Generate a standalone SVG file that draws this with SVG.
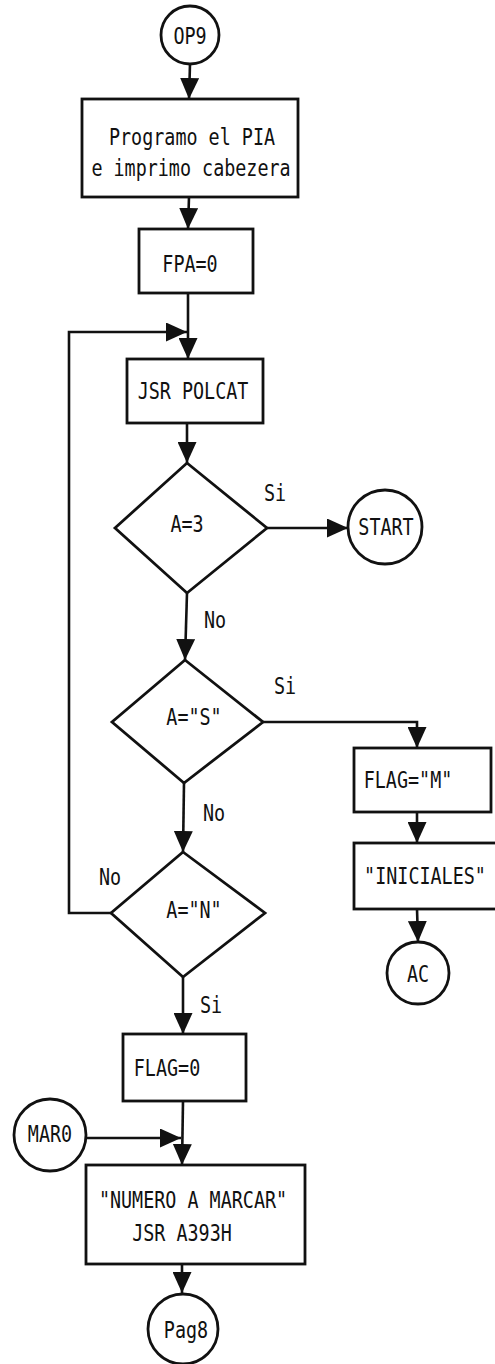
<svg xmlns="http://www.w3.org/2000/svg" width="495" height="1364" viewBox="0 0 495 1364">
<style>
.s{fill:#fff;stroke:#111;stroke-width:2.8}
.c{fill:none;stroke:#111;stroke-width:2.6}
.t{font-family:"DejaVu Sans Mono","Liberation Mono",monospace;font-size:18.4px;fill:#111;text-anchor:middle}
</style>
<defs>
<marker id="a" viewBox="0 0 21 19" markerWidth="21" markerHeight="19" refX="21" refY="9.5" orient="auto" markerUnits="userSpaceOnUse">
<path d="M0,0 L21,9.5 L0,19 z" fill="#111"/>
</marker>
</defs>
<rect width="495" height="1364" fill="#fff"/>
<g id="connectors">
<path class="c" d="M190,64 L189,99" marker-end="url(#a)"/>
<path class="c" d="M189,197 L188,229" marker-end="url(#a)"/>
<path class="c" d="M188,293 L188,359" marker-end="url(#a)"/>
<path class="c" d="M111,913 L69,913 L69,332 L187,332" marker-end="url(#a)"/>
<path class="c" d="M187,423 L187,463" marker-end="url(#a)"/>
<path class="c" d="M267,528 L348,528" marker-end="url(#a)"/>
<path class="c" d="M187,593 L185,660" marker-end="url(#a)"/>
<path class="c" d="M263,722 L417,722 L417,748" marker-end="url(#a)"/>
<path class="c" d="M417,812 L417,843" marker-end="url(#a)"/>
<path class="c" d="M417,909 L418,942" marker-end="url(#a)"/>
<path class="c" d="M184,783 L183,852" marker-end="url(#a)"/>
<path class="c" d="M183,977 L183,1034" marker-end="url(#a)"/>
<path class="c" d="M183,1101 L182,1165" marker-end="url(#a)"/>
<path class="c" d="M87,1138 L181,1138" marker-end="url(#a)"/>
<path class="c" d="M182,1264 L182,1293" marker-end="url(#a)"/>
<text class="t" transform="translate(275 493) scale(1 1.25)" y="6.7">Si</text>
<text class="t" transform="translate(215 620) scale(1 1.25)" y="6.7">No</text>
<text class="t" transform="translate(285 686) scale(1 1.25)" y="6.7">Si</text>
<text class="t" transform="translate(214 813) scale(1 1.25)" y="6.7">No</text>
<text class="t" transform="translate(110 877) scale(1 1.25)" y="6.7">No</text>
<text class="t" transform="translate(211 1005) scale(1 1.25)" y="6.7">Si</text>
</g>
<g id="op9">
<circle class="s" cx="190" cy="35" r="29"/>
<text class="t" transform="translate(190 36) scale(1 1.25)" y="6.7">OP9</text>
</g>
<g id="programo">
<rect class="s" x="82" y="99" width="216" height="98"/>
<text class="t" transform="translate(192 137) scale(1 1.25)" y="6.7">Programo el PIA</text>
<text class="t" transform="translate(191 168) scale(1 1.25)" y="6.7">e imprimo cabezera</text>
</g>
<g id="fpa">
<rect class="s" x="139" y="229" width="114" height="64"/>
<text class="t" transform="translate(190 264) scale(1 1.25)" y="6.7">FPA=0</text>
</g>
<g id="polcat">
<rect class="s" x="127" y="359" width="136" height="64"/>
<text class="t" transform="translate(193 391) scale(1 1.25)" y="6.7">JSR POLCAT</text>
</g>
<g id="a3">
<path class="s" d="M187,463 L267,528 L187,593 L115,528 z"/>
<text class="t" transform="translate(187 524) scale(1 1.25)" y="6.7">A=3</text>
</g>
<g id="start">
<circle class="s" cx="385" cy="527" r="37"/>
<text class="t" transform="translate(386 527) scale(1 1.25)" y="6.7">START</text>
</g>
<g id="as">
<path class="s" d="M185,660 L263,722 L184,783 L112,722 z"/>
<text class="t" transform="translate(194 717) scale(1 1.25)" y="6.7">A="S"</text>
</g>
<g id="flagm">
<rect class="s" x="354" y="748" width="137" height="64"/>
<text class="t" transform="translate(408 780) scale(1 1.25)" y="6.7">FLAG="M"</text>
</g>
<g id="iniciales">
<rect class="s" x="354" y="843" width="143" height="66"/>
<text class="t" transform="translate(425 876) scale(1 1.25)" y="6.7">"INICIALES"</text>
</g>
<g id="ac">
<circle class="s" cx="418" cy="973" r="31"/>
<text class="t" transform="translate(418 974) scale(1 1.25)" y="6.7">AC</text>
</g>
<g id="an">
<path class="s" d="M183,852 L265,913 L183,977 L111,913 z"/>
<text class="t" transform="translate(194 910) scale(1 1.25)" y="6.7">A="N"</text>
</g>
<g id="flag0">
<rect class="s" x="123" y="1034" width="123" height="67"/>
<text class="t" transform="translate(167 1068) scale(1 1.25)" y="6.7">FLAG=0</text>
</g>
<g id="mar0">
<circle class="s" cx="50" cy="1135" r="36"/>
<text class="t" transform="translate(50 1134) scale(1 1.25)" y="6.7">MAR0</text>
</g>
<g id="numero">
<rect class="s" x="86" y="1165" width="219" height="99"/>
<text class="t" transform="translate(193 1200) scale(1 1.25)" y="6.7">"NUMERO A MARCAR"</text>
<text class="t" transform="translate(182 1233) scale(1 1.25)" y="6.7">JSR A393H</text>
</g>
<g id="pag8">
<circle class="s" cx="183" cy="1329" r="35"/>
<text class="t" transform="translate(186 1330) scale(1 1.25)" y="6.7">Pag8</text>
</g>
</svg>
